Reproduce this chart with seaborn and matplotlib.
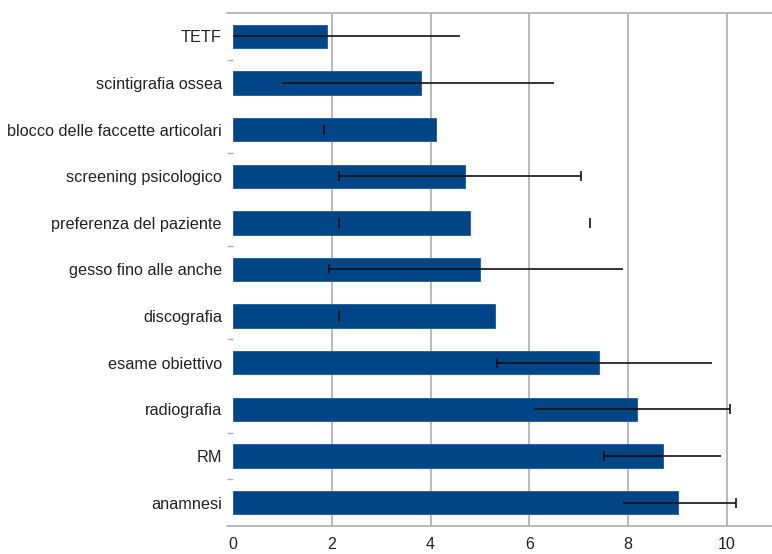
import numpy as np
import pandas as pd
import matplotlib
matplotlib.use("Agg")
import matplotlib.pyplot as plt
import seaborn as sns

# ---- data (top to bottom) ----
categories = [
    "TETF",
    "scintigrafia ossea",
    "blocco delle faccette articolari",
    "screening psicologico",
    "preferenza del paziente",
    "gesso fino alle anche",
    "discografia",
    "esame obiettivo",
    "radiografia",
    "RM",
    "anamnesi",
]
values = [1.9, 3.8, 4.1, 4.7, 4.8, 5.0, 5.3, 7.4, 8.17, 8.7, 9.0]
err_low = [0.0, 1.0, 1.85, 2.15, 2.15, 1.95, 2.15, 5.35, 6.1, 7.5, 7.9]
err_high = [4.6, 6.5, np.nan, 7.05, 7.23, 7.9, np.nan, 9.7, 10.07, 9.87, 10.18]
x_ticks = [0, 2, 4, 6, 8, 10]

# ---- rendering styles of the error bars as they appear ----
line_visible = [True, True, False, True, False, True, False, True, True, True, True]
cap_low_visible = [False, False, True, True, True, True, True, True, False, True, False]
cap_high_visible = [False, False, False, True, True, False, False, False, True, False, True]

sns.set_style("white")
plt.rcParams["font.family"] = ["Liberation Sans", "DejaVu Sans"]

df = pd.DataFrame({"categoria": categories, "valore": values})

fig = plt.figure(figsize=(7.72, 5.54), dpi=100)
W, H = 772, 554
left, right, top, bottom = 233, 772, 13, 526
ax = fig.add_axes([left / W, 1 - bottom / H, (right - left) / W, (bottom - top) / H])

sns.barplot(data=df, y="categoria", x="valore", orient="h", color="#004586",
            width=0.5, saturation=1, edgecolor="#2b62a0", linewidth=0.7,
            ax=ax, zorder=2)

for i, (v, lo, hi) in enumerate(zip(values, err_low, err_high)):
    hi_eff = v if np.isnan(hi) else hi
    _, caps, bars = ax.errorbar(v, i, xerr=[[v - lo], [hi_eff - v]], fmt="none",
                                ecolor="#111111", elinewidth=1.2, capsize=3.6,
                                capthick=1.2, zorder=3, clip_on=True)
    bars[0].set_visible(line_visible[i])
    caps[0].set_visible(cap_low_visible[i])
    caps[1].set_visible(cap_high_visible[i])

ax.set_xlim(0, (right - left) / 49.4)
ax.set_ylim(len(categories) - 0.5, -0.5)
ax.set_xticks(x_ticks)
ax.set_xticklabels([str(t) for t in x_ticks], fontsize=11.5, color="#222222")
ax.set_xlabel("")
ax.set_ylabel("")
ax.tick_params(axis="y", which="major", length=0, pad=8, labelsize=11.7,
               labelcolor="#222222")
ax.tick_params(axis="x", length=0, pad=8)

# vertical grid lines
ax.grid(axis="x", color="#b3b3b3", linewidth=1.3, zorder=0)
ax.grid(axis="y", visible=False)
ax.set_axisbelow(True)
ax.xaxis.get_gridlines()[0].set_visible(False)

# minor tick dashes on category boundaries
ax.set_yticks([0.5, 2.5, 4.5, 6.5, 8.5, 9.5], minor=True)
ax.tick_params(axis="y", which="minor", left=True, length=4, width=1,
               color="#b3b3b3")

for s in ["left", "right"]:
    ax.spines[s].set_visible(False)
for s in ["top", "bottom"]:
    ax.spines[s].set_color("#b3b3b3")
    ax.spines[s].set_linewidth(1.3)
ext = 6 / (right - left)
for yy in (0, 1):
    ax.plot([-ext, 0], [yy, yy], transform=ax.transAxes, color="#b3b3b3",
            lw=1.3, clip_on=False)

fig.savefig("out.png", dpi=100)
